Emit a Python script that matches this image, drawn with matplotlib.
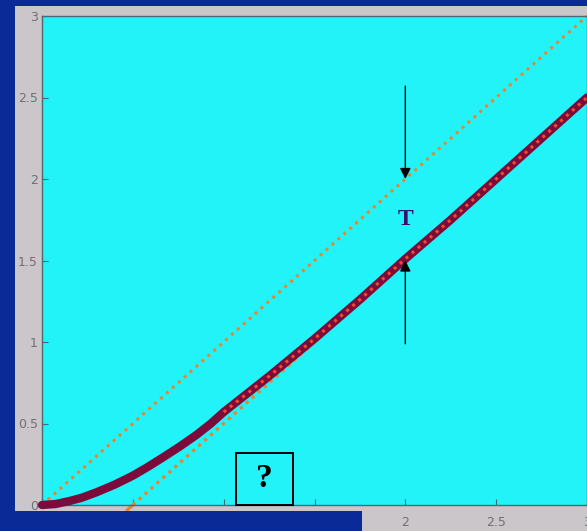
import matplotlib
matplotlib.use("Agg")
import matplotlib.pyplot as plt
from matplotlib.patches import Rectangle

# readings of the response curve and the two reference lines
t_vals = [0.0, 0.075, 0.15, 0.22, 0.3, 0.4, 0.5, 0.58, 0.67, 0.76, 0.85, 0.93,
          1.0, 1.25, 1.5, 1.75, 2.0, 2.25, 2.5, 2.75, 3.0]
resp_vals = [0.0, 0.006, 0.024, 0.045, 0.078, 0.125, 0.18, 0.232, 0.295, 0.36,
             0.43, 0.5, 0.57, 0.79, 1.02, 1.26, 1.51, 1.75, 2.0, 2.25, 2.5]
input_x = [0.0, 3.0]
input_y = [0.0, 3.0]
asym_x = [0.5, 3.0]
asym_y = [0.0, 2.5]
yticks = [0, 0.5, 1, 1.5, 2, 2.5, 3]
ytick_labels = ["0", "0.5", "1", "1.5", "2", "2.5", "3"]
xticks = [0.5, 1, 1.5, 2, 2.5, 3]
xtick_labels = ["0.5", "1", "1.5", "2", "2.5", "3"]

W, H = 587, 531
BLUE = "#0a2a98"
GRAY = "#cbc6c9"
CYAN = "#22f3f8"
ORANGE = "#e8862e"

fig = plt.figure(figsize=(W / 100, H / 100), dpi=100, facecolor=BLUE)

# gray panel behind the axes, with the bottom-left part hidden by the slide band
fig.patches.append(Rectangle((15 / W, 0), 1 - 15 / W, (H - 6) / H,
                             transform=fig.transFigure, facecolor=GRAY,
                             edgecolor="none", zorder=-1))
fig.patches.append(Rectangle((0, 0), 362 / W, 20 / H,
                             transform=fig.transFigure, facecolor=BLUE,
                             edgecolor="none", zorder=5))

ax = fig.add_axes([42 / W, (H - 505) / H, (587 - 42) / W, (505 - 16) / H])
ax.set_zorder(2)
ax.set_facecolor(CYAN)
ax.set_xlim(0, 3)
ax.set_ylim(0, 3)

ax.plot(input_x, input_y, color=ORANGE, lw=2.2, ls=(0, (1, 1.6)), clip_on=False)
ax.plot(asym_x, asym_y, color=ORANGE, lw=2.4, ls=(0, (1, 1.4)), clip_on=True)
ax.plot([0.47, 0.5], [-0.03, 0.0], color=ORANGE, lw=2.4, clip_on=False)

ax.plot(t_vals, resp_vals, color="#7c0b3c", lw=6.0, solid_capstyle="round",
        solid_joinstyle="round", clip_on=False, zorder=3)
ax.plot(t_vals[12:], resp_vals[12:], color="#f04a28", lw=2.2, ls=(0, (1, 1.6)),
        zorder=4)

# arrows marking the lag T
ax.annotate("", xy=(2.0, 2.0), xytext=(2.0, 2.57),
            arrowprops=dict(arrowstyle="-|>", color="black", lw=1.0,
                            mutation_scale=16, shrinkA=0, shrinkB=0))
ax.annotate("", xy=(2.0, 1.5), xytext=(2.0, 0.99),
            arrowprops=dict(arrowstyle="-|>", color="black", lw=1.0,
                            mutation_scale=16, shrinkA=0, shrinkB=0), zorder=5)
ax.text(2.0, 1.75, "T", color="#34116e", fontsize=17, fontweight="bold",
        family="Liberation Serif", ha="center", va="center")

ax.add_patch(Rectangle((1.07, 0.0), 0.31, 0.32, facecolor="none",
                       edgecolor="black", lw=1.4, zorder=6, clip_on=False))
ax.text(1.225, 0.16, "?", color="black", fontsize=24, fontweight="bold",
        family="Liberation Serif", ha="center", va="center", zorder=6)

for s in ax.spines.values():
    s.set_color("#4a6a70")
    s.set_linewidth(1.0)
ax.set_yticks(yticks)
ax.set_yticklabels(ytick_labels)
ax.set_xticks(xticks)
ax.set_xticklabels(xtick_labels)
ax.tick_params(direction="in", length=4, color="#4a6a70", labelcolor="#707070",
               labelsize=9, pad=3)
ax.tick_params(axis="x", pad=8)

fig.savefig("out.png", dpi=100, facecolor=BLUE)
